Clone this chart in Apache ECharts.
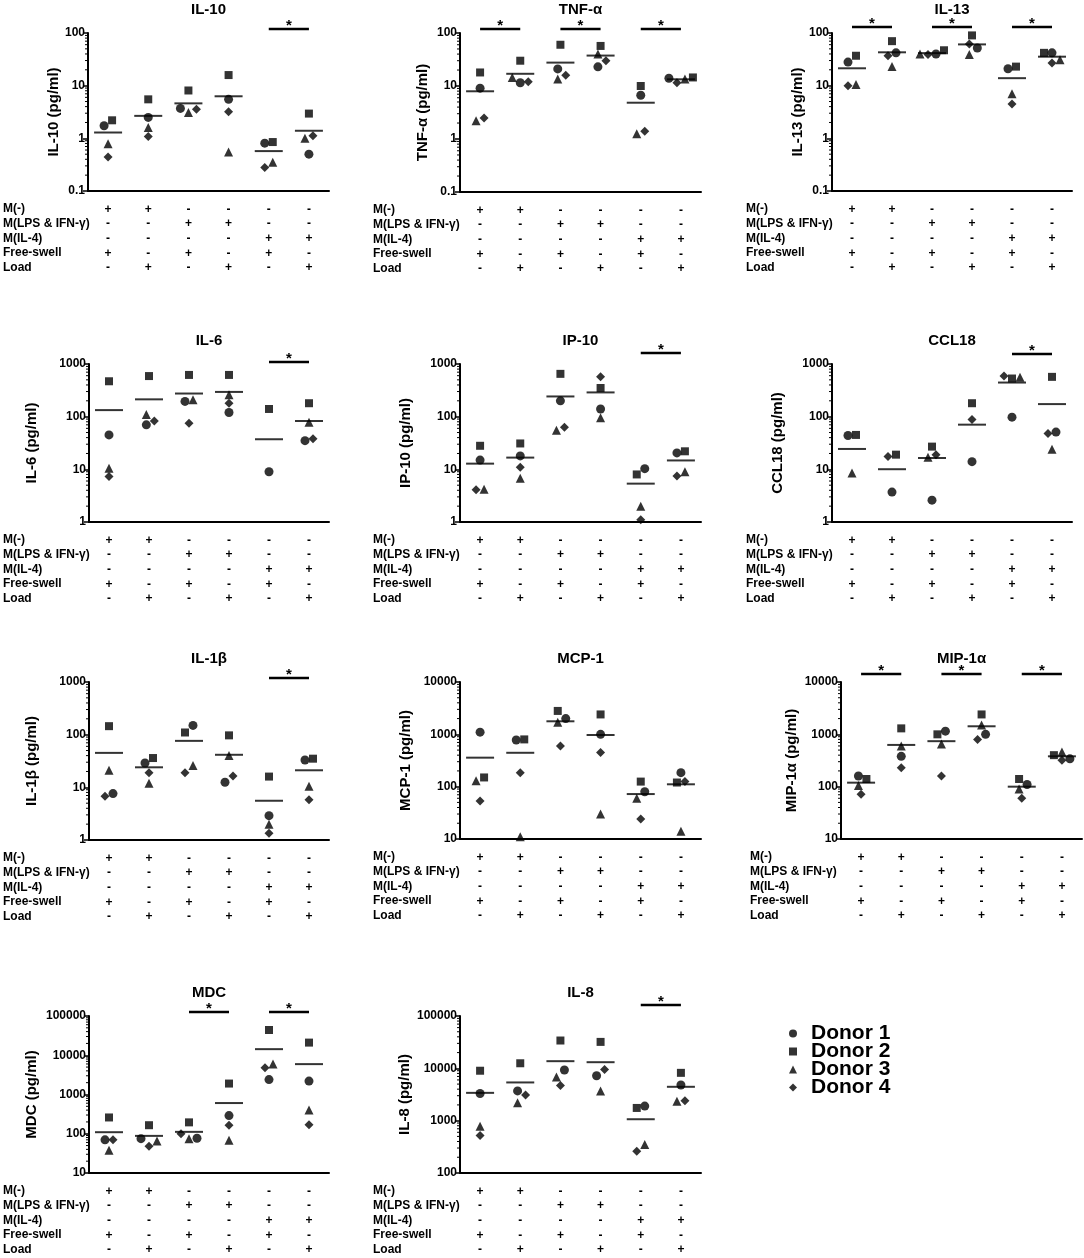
<!DOCTYPE html>
<html>
<head>
<meta charset="utf-8">
<script src="https://cdn.jsdelivr.net/npm/echarts@6/dist/echarts.min.js"></script>
<style>
  html, body { margin: 0; padding: 0; background: #fff; }
  #chart { width: 1084px; height: 1258px; }
</style>
</head>
<body>
<div id="chart"></div>
<script>
const donors = ['Donor 1', 'Donor 2', 'Donor 3', 'Donor 4'];
const donorSymbols = ['circle', 'rect', 'triangle', 'diamond'];
const conditionLabels = ['M(-)', 'M(LPS & IFN-γ)', 'M(IL-4)', 'Free-swell', 'Load'];
const conditionSigns = [
  ['+', '+', '-', '-', '-', '-'],
  ['-', '-', '+', '+', '-', '-'],
  ['-', '-', '-', '-', '+', '+'],
  ['+', '-', '+', '-', '+', '-'],
  ['-', '+', '-', '+', '-', '+']
];

// rows = donor 1..4, columns = the six conditions, pg/ml (0 = not detected)
const il10 = [
  [1.73, 2.5, 3.7, 5.5, 0.81, 0.5],
  [2.2, 5.5, 8.1, 15.9, 0.85, 2.95],
  [0.79, 1.6, 3.1, 0.55, 0.35, 1.0],
  [0.44, 1.08, 3.55, 3.2, 0.28, 1.12]
];
const tnfa = [
  [9.1, 11.5, 21, 23, 6.7, 14],
  [18, 30, 60, 57, 10, 14.5],
  [2.2, 14.5, 13.5, 40, 1.25, 13.5],
  [2.5, 12, 16, 30, 1.4, 11.5]
];
const il13 = [
  [28, 42, 40, 52, 21, 42],
  [37, 70, 47, 90, 23, 42],
  [10.5, 23, 40, 39, 7, 31],
  [10, 37, 39, 62, 4.5, 27]
];
const il6 = [
  [45, 70, 195, 120, 9, 35],
  [470, 590, 620, 620, 140, 180],
  [10.5, 110, 210, 260, 0, 78],
  [7.3, 83, 75, 180, 0, 38]
];
const ip10 = [
  [15, 18, 200, 140, 10.3, 20.5],
  [28, 31, 650, 350, 8, 22],
  [4.2, 6.8, 55, 95, 2, 9],
  [4.1, 11, 63, 570, 1.1, 7.5]
];
const ccl18 = [
  [44, 3.7, 2.6, 14, 98, 51],
  [45, 19, 27, 180, 530, 570],
  [8.5, 0, 17, 0, 560, 24],
  [0, 17.5, 19, 88, 590, 48]
];
const il1b = [
  [7.6, 29, 150, 12.5, 2.9, 33],
  [145, 36, 110, 97, 16, 35],
  [21, 12, 26, 40, 2, 10.5],
  [6.8, 19, 19, 16.5, 1.35, 5.8]
];
const mcp1 = [
  [1100, 780, 2000, 1000, 80, 185],
  [150, 800, 2800, 2400, 125, 120],
  [130, 11, 1700, 30, 60, 14],
  [53, 185, 600, 450, 24, 125]
];
const mip1a = [
  [160, 380, 1150, 1000, 110, 340],
  [140, 1300, 1000, 2400, 140, 400],
  [105, 600, 650, 1500, 90, 460],
  [72, 230, 160, 800, 60, 320]
];
const mdc = [
  [70, 75, 77, 290, 2400, 2200],
  [260, 165, 195, 1900, 44000, 21000],
  [38, 65, 75, 68, 6000, 400],
  [70, 48, 100, 165, 4800, 170]
];
const il8 = [
  [3300, 3700, 9300, 7200, 1900, 4800],
  [9000, 12500, 34000, 32000, 1750, 8200],
  [780, 2200, 6800, 3700, 350, 2350],
  [520, 3100, 4700, 9500, 260, 2400]
];

// significant pairs (condition indices)
const il10Sig = [[4, 5]];
const tnfaSig = [[0, 1], [2, 3], [4, 5]];
const il13Sig = [[0, 1], [2, 3], [4, 5]];
const il6Sig = [[4, 5]];
const ip10Sig = [[4, 5]];
const ccl18Sig = [[4, 5]];
const il1bSig = [[4, 5]];
const mcp1Sig = [];
const mip1aSig = [[0, 1], [2, 3], [4, 5]];
const mdcSig = [[2, 3], [4, 5]];
const il8Sig = [[4, 5]];

const panels = [
  { title: 'IL-10', yName: 'IL-10 (pg/ml)', range: [0.1, 100], values: il10, sig: il10Sig },
  { title: 'TNF-α', yName: 'TNF-α (pg/ml)', range: [0.1, 100], values: tnfa, sig: tnfaSig },
  { title: 'IL-13', yName: 'IL-13 (pg/ml)', range: [0.1, 100], values: il13, sig: il13Sig },
  { title: 'IL-6', yName: 'IL-6 (pg/ml)', range: [1, 1000], values: il6, sig: il6Sig },
  { title: 'IP-10', yName: 'IP-10 (pg/ml)', range: [1, 1000], values: ip10, sig: ip10Sig },
  { title: 'CCL18', yName: 'CCL18 (pg/ml)', range: [1, 1000], values: ccl18, sig: ccl18Sig },
  { title: 'IL-1β', yName: 'IL-1β (pg/ml)', range: [1, 1000], values: il1b, sig: il1bSig },
  { title: 'MCP-1', yName: 'MCP-1 (pg/ml)', range: [10, 10000], values: mcp1, sig: mcp1Sig },
  { title: 'MIP-1α', yName: 'MIP-1α (pg/ml)', range: [10, 10000], values: mip1a, sig: mip1aSig },
  { title: 'MDC', yName: 'MDC (pg/ml)', range: [10, 100000], values: mdc, sig: mdcSig },
  { title: 'IL-8', yName: 'IL-8 (pg/ml)', range: [100, 100000], values: il8, sig: il8Sig }
];

// pixel layout of each panel
const layout = [
  { left: 88, top: 33, width: 241, height: 158, labelX: 3, nameGap: 27, lift: 4 },
  { left: 460, top: 33, width: 241, height: 159, labelX: 373, nameGap: 30, lift: 4 },
  { left: 832, top: 33, width: 240, height: 158, labelX: 746, nameGap: 27, lift: 6 },
  { left: 89, top: 364, width: 240, height: 158, labelX: 3, nameGap: 50, lift: 2 },
  { left: 460, top: 364, width: 241, height: 158, labelX: 373, nameGap: 47, lift: 11 },
  { left: 832, top: 364, width: 240, height: 158, labelX: 746, nameGap: 47, lift: 10 },
  { left: 89, top: 682, width: 240, height: 158, labelX: 3, nameGap: 50, lift: 4 },
  { left: 460, top: 682, width: 241, height: 157, labelX: 373, nameGap: 47, lift: 4 },
  { left: 841, top: 682, width: 241, height: 157, labelX: 750, nameGap: 42, lift: 8 },
  { left: 89, top: 1016, width: 240, height: 157, labelX: 3, nameGap: 50, lift: 4 },
  { left: 460, top: 1016, width: 241, height: 157, labelX: 373, nameGap: 48, lift: 11 }
];

const fontFamily = '"Liberation Sans", Arial, Helvetica, sans-serif';
const ink = '#000';
const rowStep = 14.7;

// greedy beeswarm: shift a point sideways only when it would touch one already placed,
// then centre each touching run on the group's tick
function jitterOffsets(values, L, range) {
  const pxPerDecade = L.height / Math.log10(range[1] / range[0]);
  const bandPx = L.width / 6;
  const step = 8, near = 7.9;
  const off = values.map(r => r.map(() => 0));
  for (let g = 0; g < 6; g++) {
    const pts = values
      .map((r, d) => ({ d, y: r[g] > 0 ? Math.log10(r[g]) * pxPerDecade : null, x: 0 }))
      .filter(q => q.y !== null)
      .sort((a, b) => a.y - b.y);
    const placed = [];
    pts.forEach(q => {
      for (const c of [0, 1, -1, 2, -2, 3, -3]) {
        const x = c * step;
        if (placed.every(p => (p.x - x) ** 2 + (p.y - q.y) ** 2 >= near * near)) { q.x = x; break; }
      }
      placed.push(q);
    });
    let run = [];
    const flush = () => {
      const m = run.reduce((s, q) => s + q.x, 0) / (run.length || 1);
      run.forEach(q => { off[q.d][g] = (q.x - m) / bandPx; });
      run = [];
    };
    pts.forEach(q => {
      if (run.length && q.y - run[run.length - 1].y >= near) flush();
      run.push(q);
    });
    flush();
  }
  return off;
}

const groupLabels = conditionSigns[0].map((_, g) => conditionSigns.map(r => r[g]).join('\n'));

const grid = [], xAxis = [], yAxis = [], series = [], graphic = [];

panels.forEach((p, i) => {
  const L = layout[i];
  const xi = 2 * i + 1;
  grid.push({ left: L.left, top: L.top, width: L.width, height: L.height });

  xAxis.push({
    type: 'category', gridIndex: i, data: groupLabels, boundaryGap: true,
    axisLine: { onZero: false, lineStyle: { color: ink, width: 2 } },
    axisTick: { alignWithLabel: true, length: 5, lineStyle: { color: ink, width: 1.5 } },
    axisLabel: {
      interval: 0, margin: 11, lineHeight: rowStep, fontSize: 12, fontWeight: 'bold',
      color: ink, fontFamily
    },
    splitLine: { show: false }
  });
  xAxis.push({ type: 'value', gridIndex: i, min: -0.5, max: 5.5, show: false });

  yAxis.push({
    type: 'log', logBase: 10, gridIndex: i, min: p.range[0], max: p.range[1],
    name: p.yName, nameLocation: 'middle', nameGap: L.nameGap, nameMoveOverlap: false,
    nameTextStyle: { fontSize: 15, fontWeight: 'bold', color: ink, fontFamily },
    axisLine: { show: true, onZero: false, lineStyle: { color: ink, width: 2 } },
    axisTick: { show: true, length: 5, lineStyle: { color: ink, width: 1.5 } },
    axisLabel: {
      fontSize: 12, fontWeight: 'bold', color: ink, fontFamily, margin: 3,
      formatter: v => String(+(+v).toPrecision(6))
    },
    splitLine: { show: false }
  });

  // minor log ticks
  const minors = [];
  for (let dec = p.range[0]; dec < p.range[1] - 1e-9; dec *= 10) {
    for (let k = 2; k <= 9; k++) minors.push([-0.5, +(dec * k).toPrecision(6)]);
  }
  series.push({
    type: 'custom', xAxisIndex: xi, yAxisIndex: i, silent: true, clip: false,
    data: minors,
    renderItem: (params, api) => {
      const pt = api.coord([api.value(0), api.value(1)]);
      const x = params.coordSys.x;
      return { type: 'line', shape: { x1: x - 3, y1: pt[1], x2: x, y2: pt[1] },
        style: { stroke: ink, lineWidth: 1 } };
    }
  });

  // mean lines
  const means = groupLabels.map((_, g) => p.values.reduce((s, r) => s + r[g], 0) / p.values.length);
  series.push({
    type: 'scatter', xAxisIndex: xi, yAxisIndex: i, silent: true,
    symbol: 'rect', symbolSize: [28, 2], itemStyle: { color: ink },
    data: means.map((m, g) => [g, m])
  });

  // donor points
  const off = jitterOffsets(p.values, L, p.range);
  donors.forEach((name, d) => {
    series.push({
      type: 'scatter', name, xAxisIndex: xi, yAxisIndex: i,
      symbol: donorSymbols[d], symbolSize: d === 1 ? 8 : 9,
      itemStyle: { color: ink },
      data: p.values[d].map((v, g) => v > 0 ? [g + off[d][g], v] : null).filter(Boolean)
    });
  });

  // significance bars
  if (p.sig.length) {
    series.push({
      type: 'custom', xAxisIndex: xi, yAxisIndex: i, silent: true, clip: false,
      data: p.sig.map(s => [s[0], s[1]]),
      renderItem: (params, api) => {
        const a = api.coord([api.value(0), p.range[0]])[0];
        const b = api.coord([api.value(1), p.range[0]])[0];
        const y = params.coordSys.y - L.lift;
        return {
          type: 'group',
          children: [
            { type: 'line', shape: { x1: a, y1: y, x2: b, y2: y }, style: { stroke: ink, lineWidth: 2.5 } },
            { type: 'text', x: (a + b) / 2, y: y - 3,
              style: { text: '*', align: 'center', verticalAlign: 'middle', fontSize: 15,
                fontWeight: 'bold', fontFamily, fill: ink } }
          ]
        };
      }
    });
  }

  // panel title
  graphic.push({
    type: 'text', x: L.left + L.width / 2, y: L.top - 23,
    style: { text: p.title, align: 'center', verticalAlign: 'middle', fontSize: 15,
      fontWeight: 'bold', fontFamily, fill: ink }
  });

  // condition row labels
  conditionLabels.forEach((t, r) => {
    graphic.push({
      type: 'text', x: L.labelX, y: L.top + L.height + 18 + r * rowStep,
      style: { text: t, verticalAlign: 'middle', fontSize: 12, fontWeight: 'bold', fontFamily, fill: ink }
    });
  });
});

const chart = echarts.init(document.getElementById('chart'), null, { renderer: 'canvas' });
chart.setOption({
  backgroundColor: '#fff',
  animation: false,
  grid, xAxis, yAxis, series, graphic,
  legend: {
    data: donors, orient: 'vertical', left: 784, top: 1018,
    itemWidth: 8, itemHeight: 8, itemGap: -3, selectedMode: false,
    textStyle: { fontSize: 21, fontWeight: 'bold', color: ink, fontFamily, padding: [0, 0, 0, 9] }
  }
});
</script>
</body>
</html>
